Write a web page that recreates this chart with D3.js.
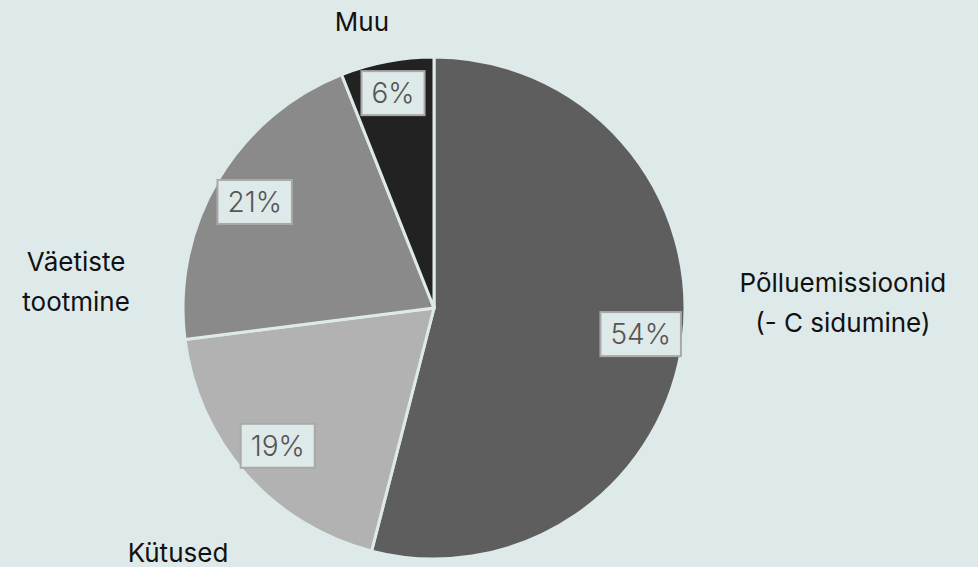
<!DOCTYPE html>
<html>
<head>
<meta charset="utf-8">
<script src="https://cdn.jsdelivr.net/npm/d3@7"></script>
<style>
  html, body { margin: 0; padding: 0; background: #dee9e9; }
  svg { display: block; }
</style>
</head>
<body>
<svg id="chart" width="978" height="567"></svg>
<script>
// data
var categories = ['Põlluemissioonid\n(- C sidumine)', 'Kütused', 'Väetiste\ntootmine', 'Muu'];
var values = [54, 19, 21, 6];
var pctLabels = ['54%', '19%', '21%', '6%'];

// layout
var svg = d3.select('#chart');
var cx = 434, cy = 308, radius = 251;
var colors = ['#5e5e5e', '#b2b2b2', '#8a8a8a', '#222222'];
// outer label centres, in units of radius from the pie centre
var labelOffsets = [[1.629, -0.02], [-1.02, 0.976], [-1.426, -0.104], [-0.287, -1.139]];

var data = values.map(function(v, i) { return {name: categories[i], value: v, pct: pctLabels[i], i: i}; });

var pie = d3.pie().value(d => d.value).sort(null);
var arc = d3.arc().innerRadius(0).outerRadius(radius);
var labelArc = d3.arc().innerRadius(radius * 0.83).outerRadius(radius * 0.83);

var g = svg.append('g').attr('transform', 'translate(' + cx + ',' + cy + ')');
var arcs = pie(data);

g.selectAll('path').data(arcs).enter().append('path')
	.attr('d', arc)
	.attr('fill', d => colors[d.data.i])
	.attr('stroke', '#dee9e9')
	.attr('stroke-width', 3);

// percentage boxes
var pl = g.selectAll('g.pct').data(arcs).enter().append('g')
	.attr('class', 'pct')
	.attr('transform', function(d) {
		var c = labelArc.centroid(d);
		if (d.data.i == 3) c = [c[0] * 1.05, c[1] * 1.05];
		return 'translate(' + c[0] + ',' + c[1] + ')';
	});
pl.append('text')
	.attr('text-anchor', 'middle').attr('dy', '0.35em')
	.attr('font-family', 'Inter, sans-serif').attr('font-size', 28).attr('font-weight', 300)
	.attr('fill', '#555555')
	.text(d => d.data.pct);
pl.each(function() {
	var t = d3.select(this).select('text').node().getBBox();
	d3.select(this).insert('rect', 'text')
		.attr('x', t.x - 10).attr('y', -22)
		.attr('width', t.width + 20).attr('height', 44)
		.attr('fill', '#dee9e9').attr('stroke', '#a9a9a9').attr('stroke-width', 2);
});

// category labels
var lineH = 40;
var ol = g.selectAll('text.cat').data(data).enter().append('text')
	.attr('class', 'cat')
	.attr('text-anchor', 'middle')
	.attr('font-family', 'Inter, sans-serif').attr('font-size', 26)
	.attr('fill', '#111111');
ol.each(function(d) {
	var lines = d.name.split('\n');
	var ox = labelOffsets[d.i][0] * radius, oy = labelOffsets[d.i][1] * radius;
	var y0 = oy - (lines.length - 1) * lineH / 2;
	d3.select(this).selectAll('tspan').data(lines).enter().append('tspan')
		.attr('x', ox).attr('y', (l, k) => y0 + k * lineH).attr('dy', '0.35em')
		.text(l => l);
});
</script>
</body>
</html>
